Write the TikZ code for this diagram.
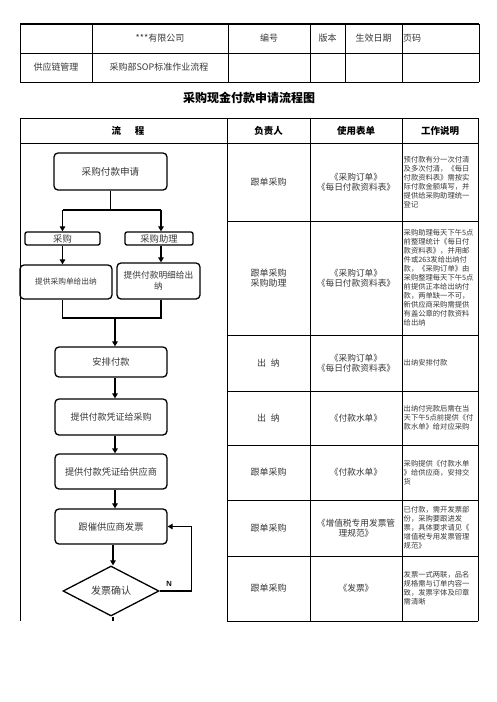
\documentclass[tikz,border=0pt]{standalone}
\usepackage{fontspec}
\setmainfont{Noto Sans CJK SC}
\usetikzlibrary{arrows.meta,shapes.geometric,calc}
\newcommand\fsz[2]{\fontsize{#1}{#2}\selectfont}
\colorlet{txt}{black!78}
\tikzset{
  tline/.style={line width=0.9pt},
  fbox/.style={draw, line width=1.3pt, rounded corners=4pt, align=center, text=txt, inner sep=1pt},
  sbox/.style={draw, line width=1.3pt, rounded corners=2pt, align=center, text=txt, inner sep=0pt},
  arr/.style={line width=1.5pt, -{Triangle[length=5pt,width=5.5pt]}},
  conn/.style={line width=1.5pt},
  cell/.style={align=center, text=txt, inner sep=0pt, font=\fsz{9}{9.6}},
  form/.style={align=center, text=txt, inner sep=0pt, font=\fsz{8.7}{9.4}},
  note/.style={align=left, anchor=west, text=txt, inner sep=0pt, font=\fsz{7.3}{9}},
  hcell/.style={align=center, text=txt, inner sep=0pt, font=\fsz{9}{10}},
  bhead/.style={align=center, inner sep=0pt, font=\bfseries\fsz{9.5}{10}}
}
\begin{document}
\begin{tikzpicture}[x=1pt,y=-1pt]
\useasboundingbox[fill=white] (0,0) rectangle (496,702);

% ---------- header table ----------
\draw[line width=1.3pt] (20,24) -- (479,24);
\draw[tline] (20,53) -- (479,53);
\draw[tline] (20,82) -- (479,82);
\foreach \x in {20,92,228,310,345,402,479} \draw[tline] (\x,24) -- (\x,82);
\node[hcell] (h1) at (160,38.5) {***有限公司};
\node[hcell] (h2) at (269,38.5) {编号};
\node[hcell] (h3) at (327.5,38.5) {版本};
\node[hcell] (h4) at (373.5,38.5) {生效日期};
\node[hcell, anchor=west] (h5) at (403,38.5) {页码};
\node[hcell] (h6) at (56,67.5) {供应链管理};
\node[hcell] (h7) at (159,67.5) {采购部SOP标准作业流程};

% ---------- title ----------
\node[inner sep=0pt, font=\bfseries\fsz{12}{13}] (title) at (249,98) {采购现金付款申请流程图};

% ---------- main table ----------
\draw[tline] (20,118) -- (478,118);
\draw[tline] (20,143) -- (478,143);
\foreach \y in {221,335,391,445,500,556,621} \draw[tline] (227,\y) -- (478,\y);
\draw[tline] (20,118) -- (20,621);
\foreach \x in {227,310,402,478} \draw[tline] (\x,118) -- (\x,621);

\node[bhead] (t1) at (128,130.5) {流\hspace{14pt}程};
\node[bhead] (t2) at (268.5,130.5) {负责人};
\node[bhead] (t3) at (356,130.5) {使用表单};
\node[bhead] (t4) at (440,130.5) {工作说明};

% column: 负责人
\node[cell] (p1) at (268.5,182) {跟单采购};
\node[cell] (p2) at (268.5,278) {跟单采购\\采购助理};
\node[cell] (p3) at (268.5,363) {出\hspace{5pt}纳};
\node[cell] (p4) at (268.5,418) {出\hspace{5pt}纳};
\node[cell] (p5) at (268.5,472.5) {跟单采购};
\node[cell] (p6) at (268.5,528) {跟单采购};
\node[cell] (p7) at (268.5,588.5) {跟单采购};

% column: 使用表单
\node[form] (f1) at (356,182) {《采购订单》\\《每日付款资料表》};
\node[form] (f2) at (356,278) {《采购订单》\\《每日付款资料表》};
\node[form] (f3) at (356,363) {《采购订单》\\《每日付款资料表》};
\node[form] (f4) at (356,418) {《付款水单》};
\node[form] (f5) at (356,472.5) {《付款水单》};
\node[form] (f6) at (356,528) {《增值税专用发票管\\理规范》};
\node[form] (f7) at (356,588.5) {《发票》};

% column: 工作说明
\node[note] (w1) at (403.5,182) {预付款有分一次付清\\及多次付清，《每日\\付款资料表》需按实\\际付款金额填写，并\\提供给采购助理统一\\登记};
\node[note] (w2) at (403.5,278) {采购助理每天下午5点\\前整理统计《每日付\\款资料表》，并用邮\\件或263发给出纳付\\款，《采购订单》由\\采购整理每天下午5点\\前提供正本给出纳付\\款，两单缺一不可，\\新供应商采购需提供\\有盖公章的付款资料\\给出纳};
\node[note] (w3) at (403.5,363) {出纳安排付款};
\node[note] (w4) at (403.5,418) {出纳付完款后需在当\\天下午5点前提供《付\\款水单》给对应采购};
\node[note] (w5) at (403.5,472.5) {采购提供《付款水单\\》给供应商，安排交\\货};
\node[note] (w6) at (403.5,528) {已付款，需开发票部\\份，采购要跟进发\\票，具体要求请见《\\增值税专用发票管理\\规范》};
\node[note] (w7) at (403.5,588.5) {发票一式两联，品名\\规格需与订单内容一\\致，发票字体及印章\\需清晰};

% ---------- flowchart ----------
\node[fbox, minimum width=113pt, minimum height=37pt, font=\fsz{9.6}{11}] (n1) at (110.5,171.5) {采购付款申请};
\node[sbox, minimum width=75pt, minimum height=13pt, font=\fsz{9.3}{10}] (a) at (62.5,238.5) {采购};
\node[sbox, minimum width=68pt, minimum height=13pt, font=\fsz{9.3}{10}] (b) at (159,238.5) {采购助理};
\node[fbox, minimum width=92pt, minimum height=34pt, font=\fsz{7.7}{9}] (c) at (66,282) {提供采购单给出纳};
\node[fbox, minimum width=83pt, minimum height=36pt, font=\fsz{8.7}{11}] (d) at (158.5,281) {提供付款明细给出\\纳};
\node[fbox, minimum width=112pt, minimum height=30pt, font=\fsz{9.3}{11}] (e) at (111,362) {安排付款};
\node[fbox, minimum width=112pt, minimum height=36pt, font=\fsz{9}{11}] (f) at (111,417) {提供付款凭证给采购};
\node[fbox, minimum width=112pt, minimum height=35pt, font=\fsz{9.2}{11}] (g) at (111,471.5) {提供付款凭证给供应商};
\node[fbox, minimum width=112pt, minimum height=35pt, font=\fsz{9.3}{11}] (h) at (111,526.5) {跟催供应商发票};
\node[diamond, draw, line width=1.3pt, aspect=1.92, minimum width=96pt, minimum height=50pt, inner sep=0pt, text=txt, font=\fsz{10}{11}] (k) at (111,591) {发票确认};
\node[inner sep=0pt, font=\sffamily\bfseries\fsz{7.5}{8}] (nl) at (169,584) {N};

\coordinate (s) at (110.5,210);
\coordinate (j) at (115,318);
\coordinate (ex) at (113,621);

\draw[conn] (n1.south) -- (s);
\draw[conn] (a.north |- s) -- ([xshift=2pt]b.north |- s);
\draw[arr] (a.north |- s) -- (a.north);
\draw[arr] ([xshift=2pt]b.north |- s) -- ([xshift=2pt]b.north);
\draw[arr] (a.south) -- (a.south |- c.north);
\draw[arr] ([xshift=2pt]b.south) -- ([xshift=2pt]b.south |- d.north);
\draw[conn] (a.south |- c.south) -- (a.south |- j) -- ([xshift=2pt]b.south |- j) -- ([xshift=2pt]b.south |- d.south);
\draw[arr] (j) -- (j |- e.north);
\draw[arr] ([xshift=4pt]e.south) -- ([xshift=4pt]f.north);
\draw[arr] ([xshift=4pt]f.south) -- ([xshift=4pt]g.north);
\draw[arr] ([xshift=4pt]g.south) -- ([xshift=4pt]h.north);
\draw[arr] ([xshift=2pt]h.south) -- ([xshift=2pt]h.south |- k.north);
\draw[arr] (k.east) -- ++(32,0) |- (h.east);
\draw[conn] ([xshift=2pt]k.south) -- (ex);
\end{tikzpicture}
\end{document}
